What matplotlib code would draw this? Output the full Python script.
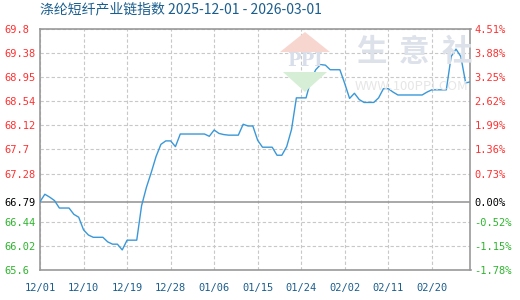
import matplotlib
matplotlib.use("Agg")
import matplotlib.pyplot as plt
import matplotlib.dates as mdates
from matplotlib.patches import Polygon
import pandas as pd
import numpy as np

plt.rcParams['font.family'] = ['Noto Sans CJK SC', 'DejaVu Sans']

title = "涤纶短纤产业链指数 2025-12-01 - 2026-03-01"
start_date = "2025-12-01"
values = [66.79, 66.92, 66.87, 66.81, 66.68, 66.68, 66.68, 66.57, 66.52, 66.30,
          66.21, 66.17, 66.17, 66.17, 66.09, 66.05, 66.05, 65.95, 66.12, 66.12,
          66.12, 66.72, 67.04, 67.30, 67.58, 67.79, 67.85, 67.85, 67.75, 67.97,
          67.97, 67.97, 67.97, 67.97, 67.97, 67.93, 68.04, 67.98, 67.96, 67.95,
          67.95, 67.95, 68.14, 68.11, 68.11, 67.86, 67.74, 67.74, 67.74, 67.60,
          67.60, 67.75, 68.05, 68.60, 68.60, 68.60, 68.91, 69.09, 69.18, 69.17,
          69.09, 69.09, 69.09, 68.85, 68.59, 68.68, 68.57, 68.52, 68.52, 68.52,
          68.60, 68.76, 68.76, 68.70, 68.65, 68.65, 68.65, 68.65, 68.65, 68.65,
          68.70, 68.74, 68.74, 68.74, 68.74, 69.32, 69.45, 69.32, 68.86, 68.88]
base_value = 66.79
y_ticks = [65.6, 66.02, 66.44, 66.79, 67.28, 67.70, 68.12, 68.54, 68.96, 69.38, 69.8]
y_labels = ["65.6", "66.02", "66.44", "66.79", "67.28", "67.7", "68.12", "68.54", "68.95", "69.38", "69.8"]
pct_labels = ["-1.78%", "-1.15%", "-0.52%", "0.00%", "0.73%", "1.36%", "1.99%", "2.62%", "3.25%", "3.88%", "4.51%"]
x_tick_labels = ["12/01", "12/10", "12/19", "12/28", "01/06", "01/15", "01/24", "02/02", "02/11", "02/20"]

dates = pd.date_range(start_date, periods=len(values), freq="D")
x_ticks = pd.date_range(start_date, periods=len(x_tick_labels), freq="9D")

RED = "#ff3030"
GREEN = "#2db52d"
BLACK = "#000000"
BLUE_TXT = "#1a5e8e"
GRID = "#c8c8c8"
FRAME = "#999999"

fig = plt.figure(figsize=(5.2, 3.0), dpi=100)
ax = fig.add_axes([40/520, 30/300, 430.5/520, 241/300])

# watermark
fig.patches.append(Polygon([[280/520, 1-52/300], [305/520, 1-32/300], [330/520, 1-52/300]],
                           closed=True, transform=fig.transFigure, facecolor="#f8d6d0",
                           edgecolor="none", zorder=0))
fig.patches.append(Polygon([[283/520, 1-72/300], [305/520, 1-92/300], [327/520, 1-72/300]],
                           closed=True, transform=fig.transFigure, facecolor="#d6eed6",
                           edgecolor="none", zorder=0))
ax.patch.set_alpha(0)
fig.text(305/520, 1-61/300, "PPI", ha="center", va="center", fontsize=13,
         color="#d8dfea", family="DejaVu Serif", fontweight="bold", zorder=0)
for i, ch in enumerate("生意社"):
    fig.text((371 + i*43)/520, 1-52/300, ch, ha="center", va="center", fontsize=22,
             color="#dde2ea", fontweight="bold", zorder=0)
fig.text(412/520, 1-86/300, "WWW.100PPI.COM", ha="center", va="center", fontsize=9.5,
         color="#e6e6e6", zorder=0)

ax.plot(dates, values, color="#3a98d8", linewidth=1.0, zorder=3)

ax.set_xlim(dates[0], dates[-1])
ax.set_ylim(y_ticks[0], y_ticks[-1])

ax.set_yticks(y_ticks)
ax.set_yticklabels(y_labels)
ax.set_xticks(x_ticks)
ax.set_xticklabels(x_tick_labels)

ax.tick_params(axis="y", length=0, pad=25.5, labelsize=7.5)
ax.tick_params(axis="x", length=0, pad=9, labelsize=7.5, labelcolor=BLUE_TXT)
for lab in ax.get_yticklabels():
    lab.set_horizontalalignment("left")
    lab.set_family("DejaVu Sans Mono")
for lab in ax.get_xticklabels():
    lab.set_family("DejaVu Sans Mono")

def color_for(v):
    if abs(v - base_value) < 1e-9:
        return BLACK
    return RED if v > base_value else GREEN

for lab, v in zip(ax.get_yticklabels(), y_ticks):
    lab.set_color(color_for(v))

# grid
for v in y_ticks:
    if abs(v - base_value) < 1e-9:
        ax.axhline(v, color=FRAME, linewidth=1.2, zorder=2)
    else:
        ax.axhline(v, color=GRID, linewidth=0.8, linestyle=(0, (3, 2)), zorder=1)
for d in x_ticks:
    ax.axvline(d, color=GRID, linewidth=0.8, linestyle=(0, (3, 2)), zorder=1)

for s in ax.spines.values():
    s.set_color(FRAME)
    s.set_linewidth(1.2)

ax2 = ax.twinx()
ax2.set_ylim(ax.get_ylim())
ax2.set_yticks(y_ticks)
ax2.set_yticklabels(pct_labels)
ax2.tick_params(axis="y", length=0, pad=3, labelsize=7.5)
for lab, v in zip(ax2.get_yticklabels(), y_ticks):
    lab.set_color(color_for(v))
    lab.set_family("DejaVu Sans Mono")
for s in ax2.spines.values():
    s.set_visible(False)

fig.text(40/520, 1-9/300, title, ha="left", va="center", fontsize=10, color=BLUE_TXT)

fig.savefig("out.png", dpi=100)
